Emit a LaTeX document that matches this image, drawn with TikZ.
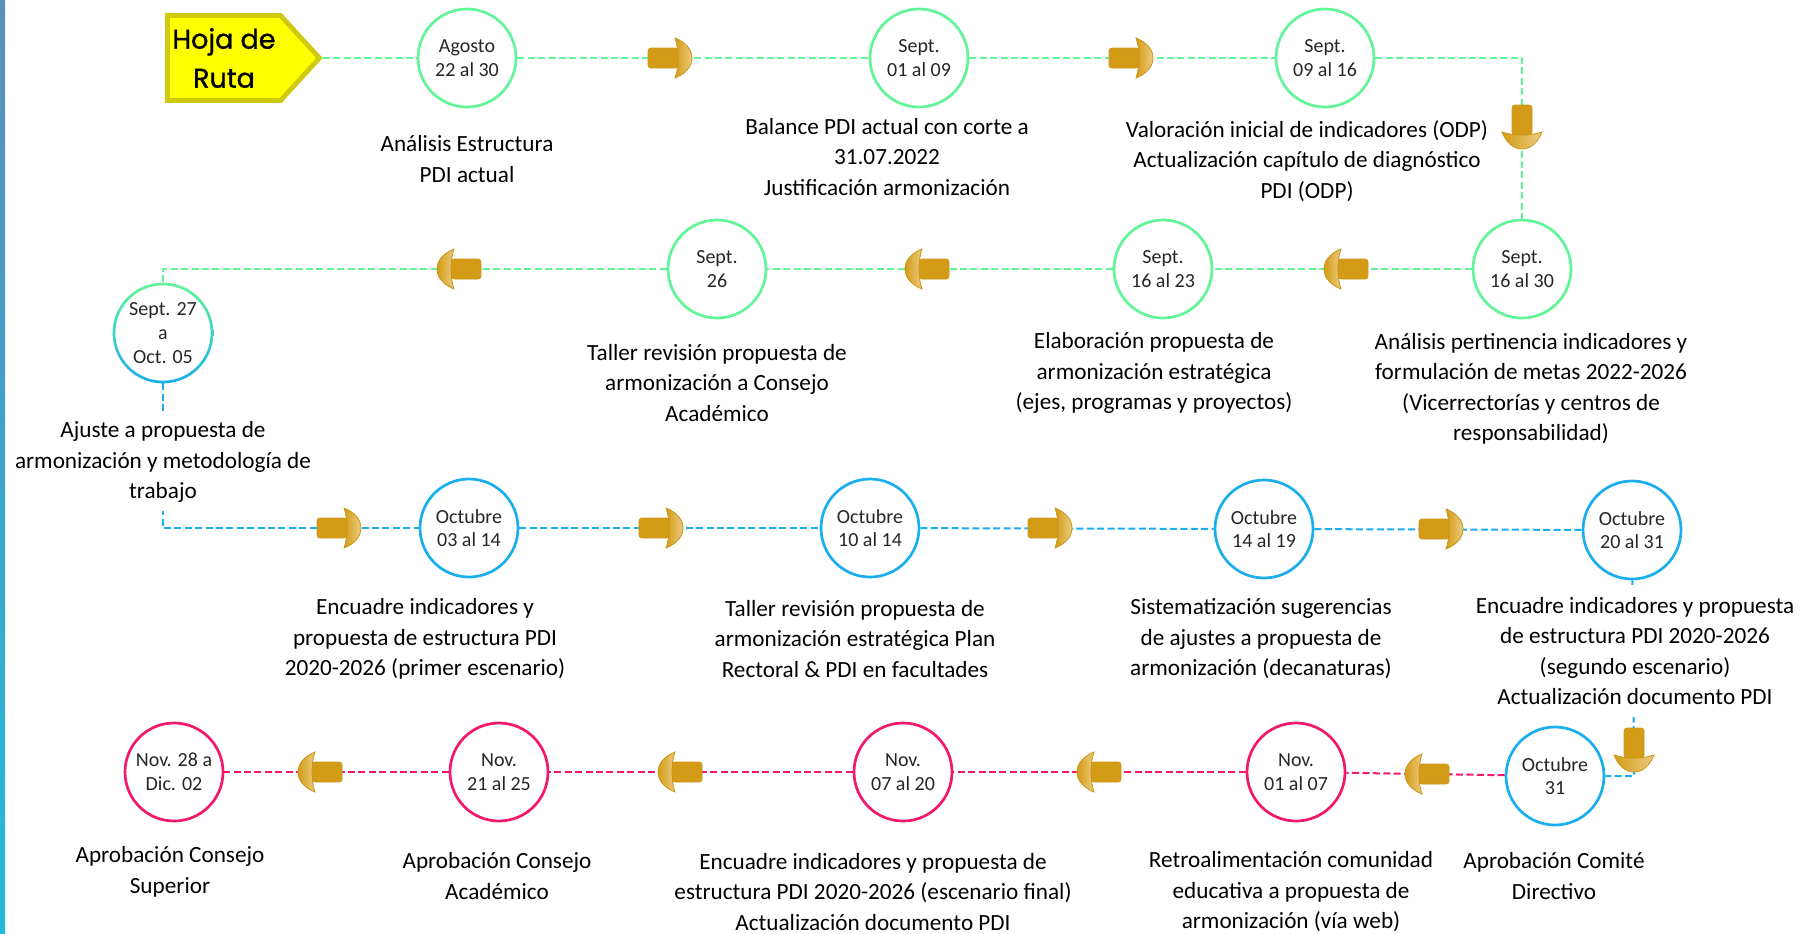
\documentclass[tikz,border=0pt]{standalone}
\usepackage{fontspec}
\setmainfont{Carlito}
\newfontfamily\hojafont{Poppins}[FakeBold=1.2]
\usetikzlibrary{shapes.symbols}
\usetikzlibrary{positioning,calc}

\definecolor{rutagreen}{HTML}{62F598}
\definecolor{rutablue}{HTML}{1AAEEE}
\definecolor{rutapink}{HTML}{F2186C}
\definecolor{arrowgold}{HTML}{D49C16}
\definecolor{arrowlight}{HTML}{EACB80}
\definecolor{arrowedge}{HTML}{C99418}
\definecolor{hojayellow}{HTML}{FFFF00}
\definecolor{hojaedge}{HTML}{CFCA10}
\definecolor{barblue}{HTML}{5A8EBB}
\definecolor{barcyan}{HTML}{22BAD8}

\tikzset{
   stage/.style={circle, draw=#1, line width=1.35pt, fill=white,
      minimum size=49pt, inner sep=0pt, align=center, text=black!85,
      font=\fontsize{10}{11.8}\selectfont},
   txt/.style={align=center, inner sep=1pt, fill=white,
      font=\fontsize{11.6}{15.25}\selectfont},
   route/.style={draw=#1, line width=1pt, dash pattern=on 3.5pt off 1.7pt},
   hoja/.style={signal, signal to=east, signal pointer angle=95,
      fill=hojayellow, draw=hojaedge, line width=2.4pt, minimum width=76pt,
      minimum height=42.5pt, align=center, inner sep=2pt,
      font=\fontsize{13.5}{19.5}\hojafont},
   goldarrow/.pic={
      \path[fill=arrowgold, draw=arrowedge, line width=0.4pt,
         rounded corners=1.5pt] (-22,-10) rectangle (8,10);
      \path[left color=arrowgold, right color=arrowlight, draw=arrowedge,
         line width=0.4pt]
         (5,-20) .. controls (15,-16) and (22,-9) .. (22,0)
         .. controls (22,9) and (15,16) .. (5,20)
         .. controls (9,9) and (9,-9) .. (5,-20) -- cycle;
   }
}

\begin{document}
\begin{tikzpicture}[x=0.5pt, y=-0.5pt]
   \useasboundingbox (0,0) rectangle (1818,933);
   \shade[top color=barblue, bottom color=barcyan] (0,0) rectangle (5,933);

   % row 1
   \node[hoja] (hoja) at (224,58) {Hoja de\\Ruta};
   \node[stage=rutagreen] (agosto) at (467,58)  {Agosto\\22 al 30};
   \node[stage=rutagreen] (sepa)   at (919,58)  {Sept.\\01 al 09};
   \node[stage=rutagreen] (sepb)   at (1325,58) {Sept.\\09 al 16};

   % row 2
   \node[stage=rutagreen] (sepc) at (1522,269) {Sept.\\16 al 30};
   \node[stage=rutagreen] (sepd) at (1163,269) {Sept.\\16 al 23};
   \node[stage=rutagreen] (sepe) at (717,269)  {Sept.\\26};
   \node[stage=white]     (sepf) at (163,333)  {Sept. 27\\a\\Oct. 05};
   \shade[top color=rutagreen, bottom color=rutablue, even odd rule]
      (sepf.center) circle[radius=25.2pt] circle[radius=23.85pt];

   % row 3
   \node[stage=rutablue] (octa) at (469,528)  {Octubre\\03 al 14};
   \node[stage=rutablue] (octb) at (870,528)  {Octubre\\10 al 14};
   \node[stage=rutablue] (octc) at (1264,529) {Octubre\\14 al 19};
   \node[stage=rutablue] (octd) at (1632,530) {Octubre\\20 al 31};

   % row 4
   \node[stage=rutablue] (octe) at (1555,776) {Octubre\\31};
   \node[stage=rutapink] (nova) at (1296,772) {Nov.\\01 al 07};
   \node[stage=rutapink] (novb) at (903,772)  {Nov.\\07 al 20};
   \node[stage=rutapink] (novc) at (499,772)  {Nov.\\21 al 25};
   \node[stage=rutapink] (novd) at (174,772)  {Nov. 28 a\\Dic. 02};

   % turning points
   \coordinate (t1) at (1522,58);
   \coordinate (t2) at (163,269);
   \coordinate (t3) at (163,528);
   \coordinate (t4) at (1634,776);

   % dashed route
   \draw[route=rutagreen] (hoja.east) -- (agosto);
   \draw[route=rutagreen] (agosto) -- (sepa);
   \draw[route=rutagreen] (sepa) -- (sepb);
   \draw[route=rutagreen] (sepb) -- (t1) -- (sepc);
   \draw[route=rutagreen] (sepc) -- (sepd);
   \draw[route=rutagreen] (sepd) -- (sepe);
   \draw[route=rutagreen] (sepe) -- (t2) -- (sepf);
   \draw[route=rutablue]  (sepf) -- (t3) -- (octa);
   \draw[route=rutablue]  (octa) -- (octb);
   \draw[route=rutablue]  (octb) -- (octc);
   \draw[route=rutablue]  (octc) -- (octd);
   \draw[route=rutablue]  (octd) -- (t4) -- (octe);
   \draw[route=rutapink]  (octe) -- (nova);
   \draw[route=rutapink]  (nova) -- (novb);
   \draw[route=rutapink]  (novb) -- (novc);
   \draw[route=rutapink]  (novc) -- (novd);

   % gold arrows
   \pic at (670,58) {goldarrow};
   \pic at (1131,58) {goldarrow};
   \pic[rotate=-90] at (1522,127) {goldarrow};
   \pic[rotate=180] at (1346,269) {goldarrow};
   \pic[rotate=180] at (927,269) {goldarrow};
   \pic[rotate=180] at (459,269) {goldarrow};
   \pic at (339,528) {goldarrow};
   \pic at (661,528) {goldarrow};
   \pic at (1050,528) {goldarrow};
   \pic at (1441,529) {goldarrow};
   \pic[rotate=-90] at (1634,750) {goldarrow};
   \pic[rotate=180] at (1427,774) {goldarrow};
   \pic[rotate=180] at (1099,772) {goldarrow};
   \pic[rotate=180] at (680,772) {goldarrow};
   \pic[rotate=180] at (320,772) {goldarrow};

   % activities
   \node[txt] (lagosto) at (467,159) {Análisis Estructura\\PDI actual};
   \node[txt] (lsepa) at (887,157)
      {Balance PDI actual con corte a\\31.07.2022\\Justificación armonización};
   \node[txt] (lsepb) at (1307,161)
      {Valoración inicial de indicadores (ODP)\\Actualización capítulo de diagnóstico\\PDI (ODP)};
   \node[txt] (lsepc) at (1531,389)
      {Análisis pertinencia indicadores y\\formulación de metas 2022-2026\\(Vicerrectorías y centros de\\responsabilidad)};
   \node[txt] (lsepd) at (1154,373)
      {Elaboración propuesta de\\armonización estratégica\\(ejes, programas y proyectos)};
   \node[txt] (lsepe) at (717,383)
      {Taller revisión propuesta de\\armonización a Consejo\\Académico};
   \node[txt, inner ysep=4pt] (lsepf) at (163,462)
      {Ajuste a propuesta de\\armonización y metodología de\\trabajo};
   \node[txt] (locta) at (425,639)
      {Encuadre indicadores y\\propuesta de estructura PDI\\2020-2026 (primer escenario)};
   \node[txt] (loctb) at (855,639)
      {Taller revisión propuesta de\\armonización estratégica Plan\\Rectoral \& PDI en facultades};
   \node[txt] (loctc) at (1261,639)
      {Sistematización sugerencias\\de ajustes a propuesta de\\armonización (decanaturas)};
   \node[txt, inner ysep=6pt] (loctd) at (1635,651)
      {Encuadre indicadores y propuesta\\de estructura PDI 2020-2026\\(segundo escenario)\\Actualización documento PDI};
   \node[txt] (locte) at (1554,876) {Aprobación Comité\\Directivo};
   \node[txt] (lnova) at (1291,892)
      {Retroalimentación comunidad\\educativa a propuesta de\\armonización (vía web)};
   \node[txt] (lnovb) at (873,892)
      {Encuadre indicadores y propuesta de\\estructura PDI 2020-2026 (escenario final)\\Actualización documento PDI};
   \node[txt] (lnovc) at (497,876) {Aprobación Consejo\\Académico};
   \node[txt] (lnovd) at (170,872) {Aprobación Consejo\\Superior};
\end{tikzpicture}
\end{document}
